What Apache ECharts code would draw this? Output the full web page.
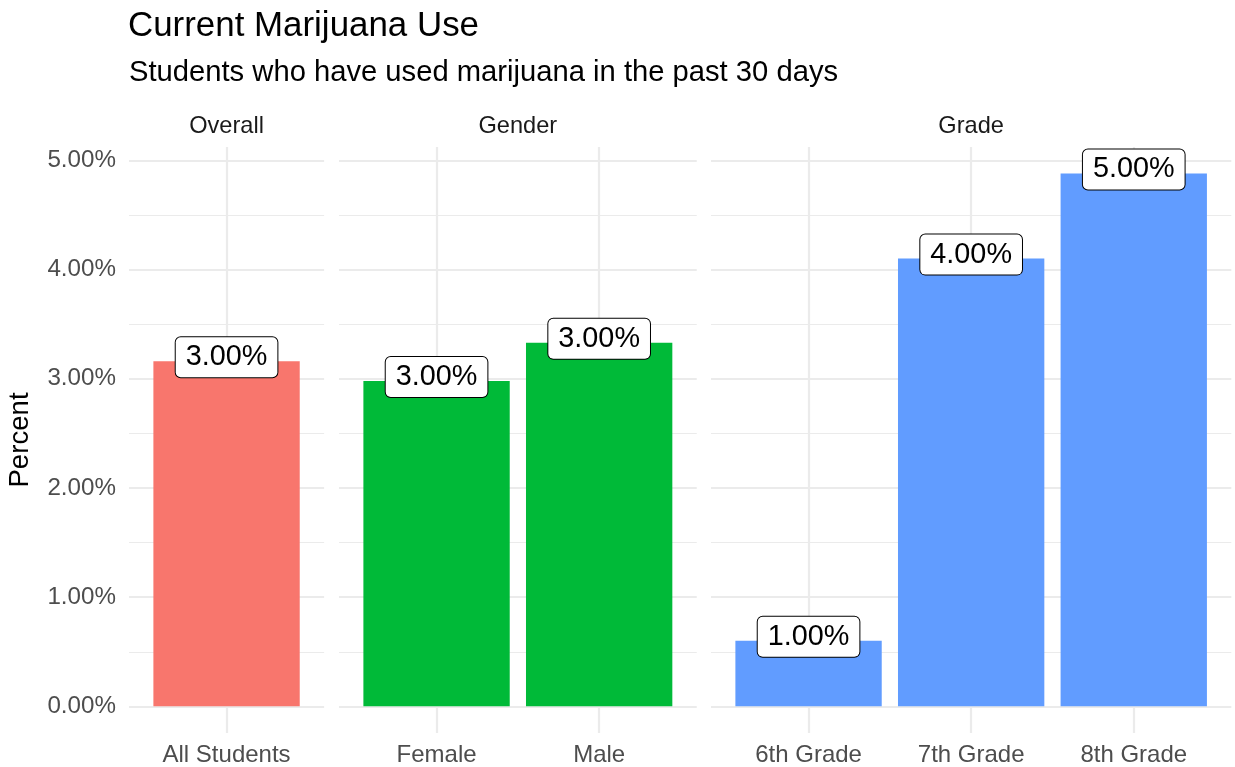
<!DOCTYPE html>
<html>
<head>
<meta charset="utf-8">
<title>Current Marijuana Use</title>
<script src="https://cdn.jsdelivr.net/npm/echarts@6/dist/echarts.min.js"></script>
<style>
  html, body { margin: 0; padding: 0; background: #fff; }
  #chart { width: 1235px; height: 767px; }
</style>
</head>
<body>
<div id="chart"></div>
<script>
// facets, left to right
const facetNames = ['Overall', 'Gender', 'Grade']
const overallCats = ['All Students']
const genderCats = ['Female', 'Male']
const gradeCats = ['6th Grade', '7th Grade', '8th Grade']
// percent values
const overallValues = [3.16]
const genderValues = [2.98, 3.33]
const gradeValues = [0.60, 4.10, 4.88]
// box labels as printed
const overallLabels = ['3.00%']
const genderLabels = ['3.00%', '3.00%']
const gradeLabels = ['1.00%', '4.00%', '5.00%']
const facetColors = ['#F8766D', '#00BA38', '#619CFF']
const yTicks = [0, 1, 2, 3, 4, 5]

const facets = [
  { cats: overallCats, values: overallValues, labels: overallLabels },
  { cats: genderCats, values: genderValues, labels: genderLabels },
  { cats: gradeCats, values: gradeValues, labels: gradeLabels }
]

// panel geometry (ggplot free-space facets)
const panelTop = 147
const panelHeight = 586
const panelLeft = [129, 339, 711]
const unit = 162.6
const yMin = -0.244
const yMax = 5.122
const grey92 = '#EBEBEB'
const font = 'Liberation Sans'

const chart = echarts.init(document.getElementById('chart'))

const grids = []
const xAxes = []
const yAxes = []
const series = []
const titles = [
  {
    text: 'Current Marijuana Use',
    left: 128,
    top: 9,
    padding: 0,
    textStyle: { fontFamily: font, fontSize: 34.9, fontWeight: 'normal', color: '#000' }
  },
  {
    text: 'Students who have used marijuana in the past 30 days',
    left: 129,
    top: 58,
    padding: 0,
    textStyle: { fontFamily: font, fontSize: 29.2, fontWeight: 'normal', color: '#000' }
  }
]

facets.forEach((f, i) => {
  const n = f.cats.length
  const width = (n + 0.2) * unit
  const idx = f.cats.map((c, k) => k)
  grids.push({ left: panelLeft[i], top: panelTop, width: width, height: panelHeight })
  titles.push({
    text: facetNames[i],
    left: panelLeft[i] + width / 2,
    top: 114,
    padding: 0,
    textAlign: 'center',
    textStyle: { fontFamily: font, fontSize: 23.6, fontWeight: 'normal', color: '#1A1A1A' }
  })
  xAxes.push({
    type: 'value',
    gridIndex: i,
    min: -0.6,
    max: n - 0.4,
    axisLine: { show: false, onZero: false },
    splitLine: { show: false },
    axisTick: {
      show: true,
      inside: true,
      length: panelHeight,
      customValues: idx,
      lineStyle: { color: grey92, width: 2.2 }
    },
    axisLabel: {
      customValues: idx,
      margin: 10,
      formatter: v => f.cats[Math.round(v)],
      fontFamily: font,
      fontSize: 24,
      color: '#4D4D4D'
    }
  })
  yAxes.push({
    type: 'value',
    gridIndex: i,
    min: yMin,
    max: yMax,
    minInterval: 1,
    maxInterval: 1,
    splitNumber: 5,
    name: i === 0 ? 'Percent' : '',
    nameLocation: 'middle',
    nameGap: 95,
    nameTextStyle: { fontFamily: font, fontSize: 27.6, color: '#000' },
    axisLine: { show: false },
    axisTick: { show: false },
    axisLabel: {
      show: i === 0,
      showMinLabel: false,
      showMaxLabel: false,
      margin: 13,
      formatter: v => yTicks.indexOf(v) >= 0 ? v.toFixed(2) + '%' : '',
      fontFamily: font,
      fontSize: 24.2,
      color: '#4D4D4D'
    },
    splitLine: { show: true, showMinLine: false, showMaxLine: false, lineStyle: { color: grey92, width: 2.2 } },
    minorTick: { show: false, splitNumber: 2 },
    minorSplitLine: { show: true, lineStyle: { color: grey92, width: 1.2 } }
  })
  series.push({
    type: 'bar',
    xAxisIndex: i,
    yAxisIndex: i,
    barWidth: 0.9 * unit,
    itemStyle: { color: facetColors[i] },
    data: f.values.map((v, k) => [k, v]),
    label: {
      show: true,
      position: 'top',
      distance: 0,
      offset: [0, 16],
      formatter: p => f.labels[p.dataIndex],
      fontFamily: font,
      fontSize: 28.8,
      lineHeight: 30,
      color: '#000',
      backgroundColor: '#fff',
      borderColor: '#000',
      borderWidth: 1,
      borderRadius: 5,
      padding: [5, 10]
    }
  })
})

chart.setOption({
  backgroundColor: '#fff',
  animation: false,
  title: titles,
  grid: grids,
  xAxis: xAxes,
  yAxis: yAxes,
  series: series
})
</script>
</body>
</html>
